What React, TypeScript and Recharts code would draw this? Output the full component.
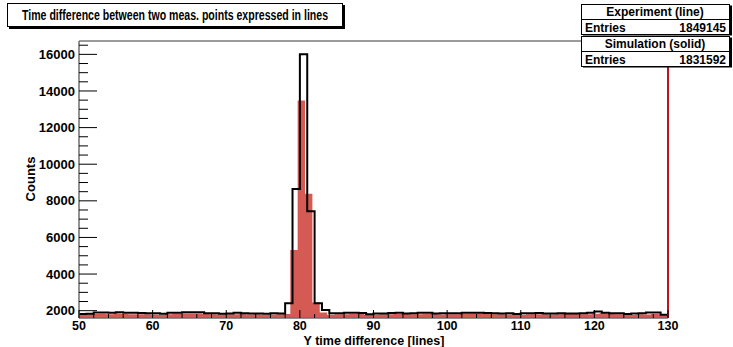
import React from 'react';
import {
  ComposedChart,
  Line,
  Area,
  XAxis,
  YAxis,
  ReferenceLine
} from 'recharts';

// Experiment histogram: 1-unit bins starting at 50
const EXP_START = 50;
const expCounts = [
  1820, 1830, 1900, 1900, 1880, 1910, 1880, 1880, 1870, 1860,
  1860, 1830, 1880, 1880, 1910, 1910, 1910, 1860, 1860, 1830,
  1850, 1880, 1860, 1840, 1840, 1830, 1860, 1840,
  2400, 8650, 16000, 7430, 2400, 2040,
  1860, 1860, 1880, 1880, 1870, 1800,
  1850, 1850, 1870, 1880, 1840, 1860, 1880, 1880, 1840, 1860,
  1860, 1860, 1880, 1880, 1880, 1870, 1860, 1840, 1860, 1820,
  1860, 1860, 1870, 1850, 1850, 1860, 1850, 1850, 1860, 1880,
  1960, 1880, 1860, 1860, 1820, 1840, 1860, 1900, 1900, 1780
];

// Simulation histogram: same bin width, edges sit ~0.7 to the right
const SIM_START = 49.7;
const simCounts = [
  1790, 1800, 1820, 1830, 1810, 1840, 1820, 1810, 1800, 1800,
  1790, 1780, 1810, 1830, 1850, 1840, 1850, 1820, 1800, 1790,
  1810, 1800, 1820, 1790, 1800, 1780, 1790, 1800,
  1820, 5320, 13480, 8380, 2450, 1900, 1780,
  1800, 1810, 1820, 1830, 1790, 1780,
  1800, 1810, 1820, 1830, 1800, 1810, 1820, 1830, 1790, 1800,
  1810, 1820, 1830, 1840, 1820, 1810, 1800, 1790, 1810, 1780,
  1800, 1810, 1800, 1790, 1800, 1830, 1820, 1800, 1810, 1830,
  1860, 1820, 1800, 1790, 1770, 1800, 1790, 1820, 1800, 1760
];

const X_MIN = 50;
const X_MAX = 130;
const Y_MIN = 1600;
const Y_MAX = 16730;

// tick marks: majors every 10 / 2000, minors every 2 / 500
const xTicks = Array.from({ length: 41 }, (_, i) => X_MIN + i * 2);
const yTicks = Array.from({ length: 30 }, (_, i) => 2000 + i * 500);

const FONT = '"Liberation Sans", Arial, Helvetica, sans-serif';
const SIM_RED = '#d55a53';

const expData = [
  ...expCounts.map((v, i) => ({ x: EXP_START + i, y: v })),
  { x: EXP_START + expCounts.length, y: expCounts[expCounts.length - 1] }
];
const simData = [
  ...simCounts.map((v, i) => ({ x: SIM_START + i, y: v })),
  { x: SIM_START + simCounts.length, y: simCounts[simCounts.length - 1] }
];

const XTick = (props: any) => {
  const { x, y, payload } = props;
  const major = payload.value % 10 === 0;
  return (
    <g>
      <line x1={x} x2={x} y1={y} y2={y - (major ? 8 : 4)} stroke="#000" />
      {major && (
        <text x={x} y={y + 11.5} textAnchor="middle" fontSize={12.5} fontWeight="bold" fontFamily={FONT} fill="#000">
          {payload.value}
        </text>
      )}
    </g>
  );
};

const YTick = (props: any) => {
  const { x, y, payload } = props;
  const major = payload.value % 2000 === 0;
  return (
    <g>
      <line x1={x} x2={x + (major ? 18 : 9)} y1={y} y2={y} stroke="#000" />
      {major && (
        <text x={x - 4} y={y} dy="0.35em" textAnchor="end" fontSize={13} fontWeight="bold" fontFamily={FONT} fill="#000">
          {payload.value}
        </text>
      )}
    </g>
  );
};

const StatBox = ({ top, title, entries }: { top: number; title: string; entries: string }) => (
  <g fontFamily={FONT} fontWeight="bold" fontSize={12} fill="#000">
    <rect x={583} y={top + 1} width={149} height={30} fill="#000" />
    <rect x={581.5} y={top} width={148} height={30} fill="#fff" stroke="#000" />
    <line x1={581.5} x2={729.5} y1={top + 15} y2={top + 15} stroke="#000" />
    <text x={655} y={top + 11.5} textAnchor="middle">{title}</text>
    <text x={585} y={top + 27}>Entries</text>
    <text x={726} y={top + 27} textAnchor="end">{entries}</text>
  </g>
);

export default function App() {
  return (
    <div style={{ position: 'absolute', left: 0, top: 0, width: 733, height: 347, background: '#fff' }}>
      <ComposedChart
        width={733}
        height={347}
        margin={{ top: 41, right: 65, bottom: 0, left: 0 }}
      >
        <XAxis
          type="number"
          dataKey="x"
          domain={[X_MIN, X_MAX]}
          allowDataOverflow
          ticks={xTicks}
          interval={0}
          tick={<XTick />}
          tickLine={false}
          tickSize={0}
          tickMargin={0}
          axisLine={{ stroke: '#6e6e6e', strokeWidth: 1.5 }}
          height={29}
        />
        <YAxis
          type="number"
          domain={[Y_MIN, Y_MAX]}
          allowDataOverflow
          ticks={yTicks}
          interval={0}
          tick={<YTick />}
          tickLine={false}
          tickSize={0}
          tickMargin={0}
          axisLine={{ stroke: '#6e6e6e', strokeWidth: 1.5 }}
          width={79}
        />
        <ReferenceLine y={Y_MAX} stroke="#7a7a7a" strokeWidth={1.5} />
        <Area
          data={simData}
          dataKey="y"
          type="stepAfter"
          baseValue={Y_MIN}
          fill={SIM_RED}
          fillOpacity={1}
          stroke="none"
          dot={false}
          activeDot={false}
          isAnimationActive={false}
        />
        <Line
          data={expData}
          dataKey="y"
          type="stepAfter"
          stroke="#000"
          strokeWidth={2}
          dot={false}
          activeDot={false}
          isAnimationActive={false}
        />
        <ReferenceLine x={X_MAX} stroke="#c0141c" strokeWidth={2} />
      </ComposedChart>
      <svg
        width={733}
        height={347}
        style={{ position: 'absolute', left: 0, top: 0, pointerEvents: 'none' }}
      >
        <rect x={9} y={5} width={336} height={24} fill="#000" />
        <rect x={7.5} y={3.5} width={335} height={23} fill="#fff" stroke="#000" />
        <text
          x={175}
          y={20}
          textAnchor="middle"
          fontSize={14}
          fontWeight="bold"
          fontFamily={FONT}
          textLength={306}
          lengthAdjust="spacingAndGlyphs"
        >
          Time difference between two meas. points expressed in lines
        </text>
        <StatBox top={4.5} title="Experiment (line)" entries="1849145" />
        <StatBox top={36.5} title="Simulation (solid)" entries="1831592" />
        <text
          x={374}
          y={344.5}
          textAnchor="middle"
          fontSize={12.5}
          fontWeight="bold"
          fontFamily={FONT}
        >
          Y time difference [lines]
        </text>
        <text
          x={0}
          y={0}
          transform="translate(35 179) rotate(-90)"
          textAnchor="middle"
          fontSize={13}
          fontWeight="bold"
          fontFamily={FONT}
        >
          Counts
        </text>
      </svg>
    </div>
  );
}
